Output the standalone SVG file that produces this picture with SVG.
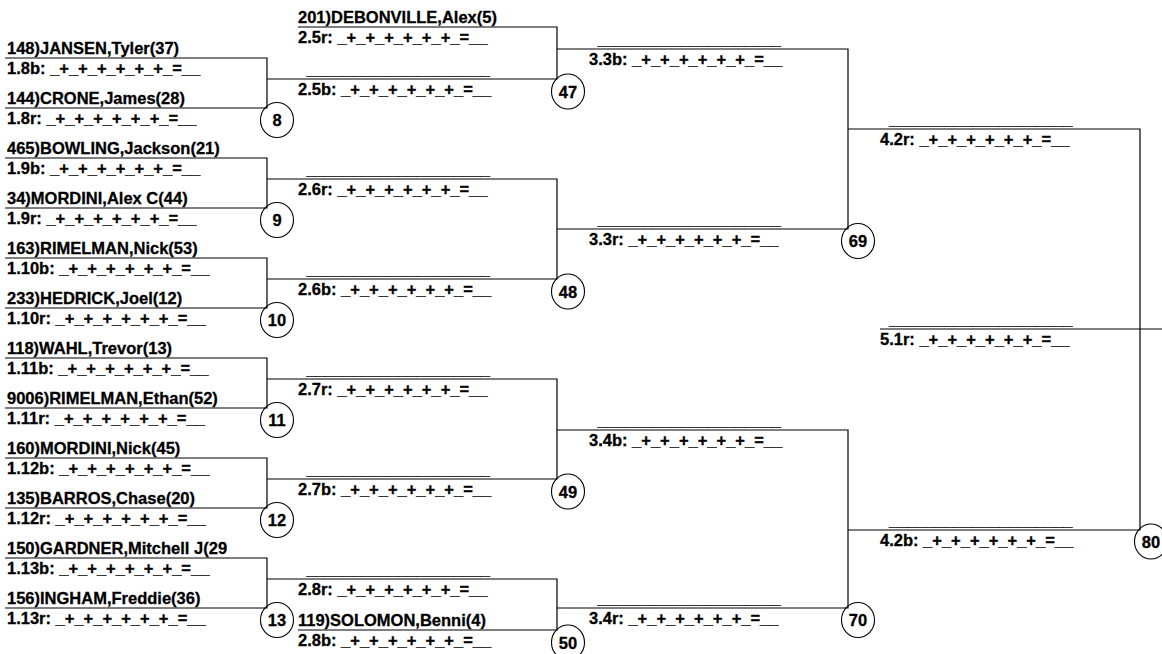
<svg xmlns="http://www.w3.org/2000/svg" width="1162" height="654" viewBox="0 0 1162 654">
<style>
text{font-family:"Liberation Sans",Arial,sans-serif;font-weight:bold;font-size:16.5px;fill:#000;stroke:#000;stroke-width:0.3}
.n{text-anchor:middle}
.c{fill:none;stroke:#000;stroke-width:1.1}
.w{fill:none;stroke:#000;stroke-width:1.2}
</style>
<rect width="1162" height="654" fill="#fff"/>
<g id="connectors" class="w">
<path d="M5 58H267V108H5"/>
<path d="M5 158H267V208H5"/>
<path d="M5 258H267V308H5"/>
<path d="M5 358H267V408H5"/>
<path d="M5 458H267V508H5"/>
<path d="M5 558H267V608H5"/>
<path d="M298 27H557V79H267"/>
<path d="M267 179H557V279H267"/>
<path d="M267 379H557V479H267"/>
<path d="M267 579H557V630H298"/>
<path d="M557 49H848V229H557"/>
<path d="M557 430H848V608H557"/>
<path d="M848 129H1140V530H848"/>
<path d="M880 329H1162"/>
</g>
<g id="m8">
<text x="7" y="54">148)JANSEN,Tyler(37)</text>
<text x="7" y="74">1.8b: _+_+_+_+_+_+_=__</text>
<text x="7" y="104">144)CRONE,James(28)</text>
<text x="7" y="124">1.8r: _+_+_+_+_+_+_=__</text>
<ellipse class="c" cx="277" cy="120" rx="16.5" ry="17.5"/>
<text class="n" x="277" y="126">8</text>
</g>
<g id="m9">
<text x="7" y="154">465)BOWLING,Jackson(21)</text>
<text x="7" y="174">1.9b: _+_+_+_+_+_+_=__</text>
<text x="7" y="204">34)MORDINI,Alex C(44)</text>
<text x="7" y="224">1.9r: _+_+_+_+_+_+_=__</text>
<ellipse class="c" cx="277" cy="220" rx="16.5" ry="17.5"/>
<text class="n" x="277" y="226">9</text>
</g>
<g id="m10">
<text x="7" y="254">163)RIMELMAN,Nick(53)</text>
<text x="7" y="274">1.10b: _+_+_+_+_+_+_=__</text>
<text x="7" y="304">233)HEDRICK,Joel(12)</text>
<text x="7" y="324">1.10r: _+_+_+_+_+_+_=__</text>
<ellipse class="c" cx="277" cy="320" rx="16.5" ry="17.5"/>
<text class="n" x="277" y="326">10</text>
</g>
<g id="m11">
<text x="7" y="354">118)WAHL,Trevor(13)</text>
<text x="7" y="374">1.11b: _+_+_+_+_+_+_=__</text>
<text x="7" y="404">9006)RIMELMAN,Ethan(52)</text>
<text x="7" y="424">1.11r: _+_+_+_+_+_+_=__</text>
<ellipse class="c" cx="277" cy="420" rx="16.5" ry="17.5"/>
<text class="n" x="277" y="426">11</text>
</g>
<g id="m12">
<text x="7" y="454">160)MORDINI,Nick(45)</text>
<text x="7" y="474">1.12b: _+_+_+_+_+_+_=__</text>
<text x="7" y="504">135)BARROS,Chase(20)</text>
<text x="7" y="524">1.12r: _+_+_+_+_+_+_=__</text>
<ellipse class="c" cx="277" cy="520" rx="16.5" ry="17.5"/>
<text class="n" x="277" y="526">12</text>
</g>
<g id="m13">
<text x="7" y="554">150)GARDNER,Mitchell J(29</text>
<text x="7" y="574">1.13b: _+_+_+_+_+_+_=__</text>
<text x="7" y="604">156)INGHAM,Freddie(36)</text>
<text x="7" y="624">1.13r: _+_+_+_+_+_+_=__</text>
<ellipse class="c" cx="277" cy="620" rx="16.5" ry="17.5"/>
<text class="n" x="277" y="626">13</text>
</g>
<g id="m47">
<text x="298" y="23">201)DEBONVILLE,Alex(5)</text>
<text x="298" y="43">2.5r: _+_+_+_+_+_+_=__</text>
<text x="306.5" y="74.5">____________________</text>
<text x="298" y="95">2.5b: _+_+_+_+_+_+_=__</text>
<ellipse class="c" cx="568" cy="91.5" rx="16.5" ry="17.5"/>
<text class="n" x="568" y="97.5">47</text>
</g>
<g id="m48">
<text x="306.5" y="174.5">____________________</text>
<text x="298" y="195">2.6r: _+_+_+_+_+_+_=__</text>
<text x="306.5" y="274.5">____________________</text>
<text x="298" y="295">2.6b: _+_+_+_+_+_+_=__</text>
<ellipse class="c" cx="568" cy="291.5" rx="16.5" ry="17.5"/>
<text class="n" x="568" y="297.5">48</text>
</g>
<g id="m49">
<text x="306.5" y="374.5">____________________</text>
<text x="298" y="395">2.7r: _+_+_+_+_+_+_=__</text>
<text x="306.5" y="474.5">____________________</text>
<text x="298" y="495">2.7b: _+_+_+_+_+_+_=__</text>
<ellipse class="c" cx="568" cy="491.5" rx="16.5" ry="17.5"/>
<text class="n" x="568" y="497.5">49</text>
</g>
<g id="m50">
<text x="306.5" y="574.5">____________________</text>
<text x="298" y="595">2.8r: _+_+_+_+_+_+_=__</text>
<text x="298" y="626">119)SOLOMON,Benni(4)</text>
<text x="298" y="646">2.8b: _+_+_+_+_+_+_=__</text>
<ellipse class="c" cx="568" cy="642.5" rx="16.5" ry="17.5"/>
<text class="n" x="568" y="648.5">50</text>
</g>
<g id="m69">
<text x="597.5" y="44.5">____________________</text>
<text x="589" y="65">3.3b: _+_+_+_+_+_+_=__</text>
<text x="597.5" y="224.5">____________________</text>
<text x="589" y="245">3.3r: _+_+_+_+_+_+_=__</text>
<ellipse class="c" cx="858" cy="241" rx="16.5" ry="17.5"/>
<text class="n" x="858" y="247">69</text>
</g>
<g id="m70">
<text x="597.5" y="425.5">____________________</text>
<text x="589" y="446">3.4b: _+_+_+_+_+_+_=__</text>
<text x="597.5" y="603.5">____________________</text>
<text x="589" y="624">3.4r: _+_+_+_+_+_+_=__</text>
<ellipse class="c" cx="858" cy="620" rx="16.5" ry="17.5"/>
<text class="n" x="858" y="626">70</text>
</g>
<g id="m80">
<text x="889" y="124.5">____________________</text>
<text x="880" y="145">4.2r: _+_+_+_+_+_+_=__</text>
<text x="889" y="525.5">____________________</text>
<text x="880" y="546">4.2b: _+_+_+_+_+_+_=__</text>
<ellipse class="c" cx="1151" cy="541.5" rx="16.5" ry="17.5"/>
<text class="n" x="1151" y="547.5">80</text>
</g>
<g id="final">
<text x="889" y="324.5">____________________</text>
<text x="880" y="345">5.1r: _+_+_+_+_+_+_=__</text>
</g>
</svg>
